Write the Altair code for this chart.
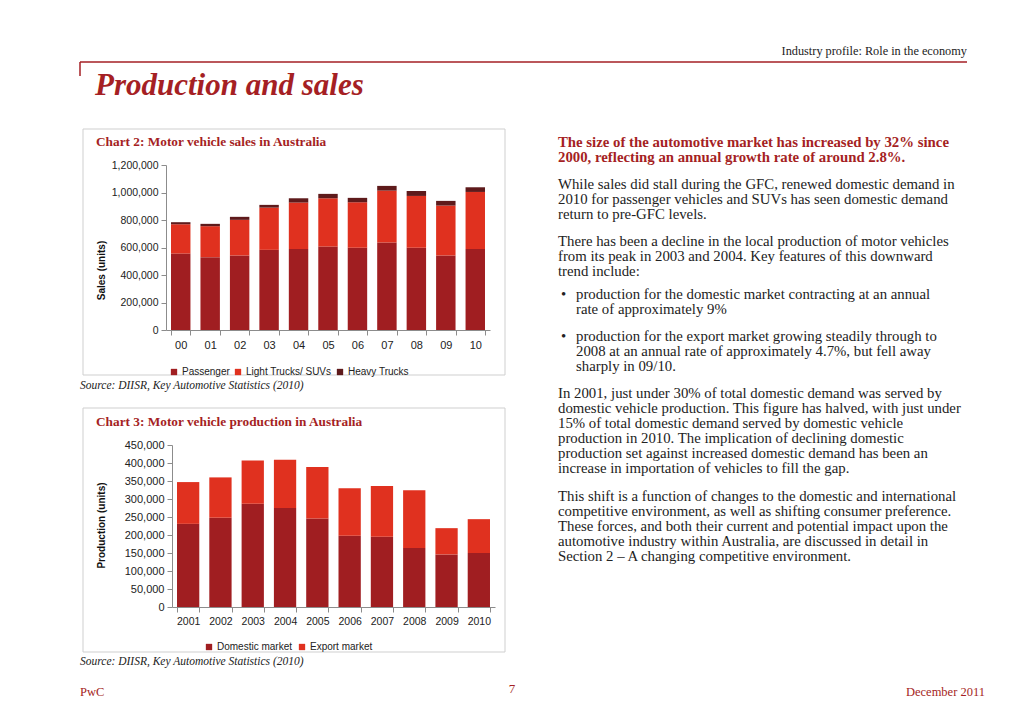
import altair as alt
import pandas as pd

# ---------------- data ----------------
sales_years = ["00", "01", "02", "03", "04", "05", "06", "07", "08", "09", "10"]
sales_series = ["Passenger", "Light Trucks/ SUVs", "Heavy Trucks"]
passenger = [556000, 530000, 542000, 583000, 590000, 607000, 598000, 636000, 598000, 542000, 590000]
light_trucks = [213000, 225000, 259000, 307000, 337000, 351000, 331000, 378000, 377000, 363000, 414000]
heavy_trucks = [15000, 17000, 22000, 20000, 31000, 32000, 32000, 34000, 36000, 34000, 34000]
sales_ticks = [0, 200000, 400000, 600000, 800000, 1000000, 1200000]

prod_years = ["2001", "2002", "2003", "2004", "2005", "2006", "2007", "2008", "2009", "2010"]
prod_series = ["Domestic market", "Export market"]
domestic = [231000, 248000, 287000, 275000, 246000, 198000, 195000, 164000, 146000, 150000]
export = [116000, 112000, 120000, 134000, 143000, 132000, 141000, 160000, 73000, 94000]
prod_ticks = [0, 50000, 100000, 150000, 200000, 250000, 300000, 350000, 400000, 450000]

sales_rows = []
for i, yr in enumerate(sales_years):
    for k, (name, vals) in enumerate(zip(sales_series, [passenger, light_trucks, heavy_trucks])):
        sales_rows.append({"year": yr, "series": name, "units": vals[i], "idx": k})
sales_df = pd.DataFrame(sales_rows)

prod_rows = []
for i, yr in enumerate(prod_years):
    for k, (name, vals) in enumerate(zip(prod_series, [domestic, export])):
        prod_rows.append({"year": yr, "series": name, "units": vals[i], "idx": k})
prod_df = pd.DataFrame(prod_rows)

# ---------------- page geometry ----------------
W, H = 1008, 698
def px(x):
    return x - 8
def py(y):
    return y - 8

SERIF = "Liberation Serif"
SANS = "Liberation Sans"
RED = "#A51F24"
DARK = "#A01E21"
BRIGHT = "#E0311F"
HEAVY = "#5E1A1B"
INK = "#222222"
AXC = "#8c8c8c"

one = pd.DataFrame({"k": [0]})


def txt(lines, x, y, size, color=INK, weight="normal", style="normal",
        align="left", font=SERIF, lh=15):
    return alt.Chart(one).mark_text(
        align=align, baseline="middle", font=font, fontSize=size,
        fontWeight=weight, fontStyle=style, color=color, lineHeight=lh
    ).encode(x=alt.value(px(x)), y=alt.value(py(y)), text=alt.value(lines))


def box(x0, x1, y0, y1):
    return alt.Chart(one).mark_rect(
        fill="white", fillOpacity=0, stroke="#cfcfcf", strokeWidth=1
    ).encode(x=alt.value(px(x0)), x2=alt.value(px(x1)),
             y=alt.value(py(y0)), y2=alt.value(py(y1)))


def bars(df, years, series, colors, x0, x1, y0, y1, ymax, ticks, pin,
         ytitle, title_dx, title_y, ylab_size, xlab_size, leg_x, leg_y, leg_pad):
    return alt.Chart(df).mark_bar().encode(
        x=alt.X("year:N", sort=years,
                scale=alt.Scale(domain=years, range=[px(x0), px(x1)],
                                paddingInner=pin, paddingOuter=pin / 2),
                axis=alt.Axis(orient="bottom", offset=py(y0) - H, title=None,
                              labelAngle=0, labelFontSize=xlab_size, labelFont=SANS,
                              labelColor=INK, tickBand="extent", tickSize=5,
                              labelPadding=4, domainColor=AXC, tickColor=AXC,
                              zindex=1)),
        y=alt.Y("units:Q", stack="zero",
                scale=alt.Scale(domain=[0, ymax], range=[py(y0), py(y1)], nice=False),
                axis=alt.Axis(orient="left", offset=-px(x0), values=ticks, format=",.0f",
                              grid=False, title=ytitle, titleX=title_dx,
                              titleY=py(title_y), titleAngle=270, titleBaseline="middle",
                              titleAlign="center", titleFontSize=10, titleFontWeight="bold",
                              titleFont=SANS, titleColor="#111111",
                              labelFontSize=ylab_size, labelFont=SANS, labelColor=INK,
                              tickSize=5, labelPadding=3, domainColor=AXC, tickColor=AXC,
                              zindex=1)),
        color=alt.Color("series:N",
                        scale=alt.Scale(domain=series, range=colors),
                        legend=alt.Legend(orient="none", legendX=px(leg_x), legendY=py(leg_y),
                                          direction="horizontal", title=None,
                                          symbolType="square", symbolSize=40,
                                          symbolStrokeWidth=0, labelFontSize=10,
                                          labelFont=SANS, labelColor=INK,
                                          columnPadding=leg_pad, padding=0,
                                          labelOffset=3)),
        order=alt.Order("idx:Q", sort="ascending"),
    )


sales_chart = bars(sales_df, sales_years, sales_series, [DARK, BRIGHT, HEAVY],
                   166, 490, 330, 165, 1200000, sales_ticks, 0.34,
                   "Sales (units)", -65, 270, 10.5, 11, 169, 367, 3)
prod_chart = bars(prod_df, prod_years, prod_series, [DARK, BRIGHT],
                  172, 495, 607, 445, 450000, prod_ticks, 0.31,
                  "Production (units)", -71, 525, 11, 10.5, 204, 642, 4)

# ---------------- page furniture ----------------
rule_h = alt.Chart(one).mark_rule(color=RED, strokeWidth=1.5).encode(
    x=alt.value(px(80)), x2=alt.value(px(967)), y=alt.value(py(62)))
rule_v = alt.Chart(one).mark_rule(color=RED, strokeWidth=1.5).encode(
    x=alt.value(px(80)), y=alt.value(py(62)), y2=alt.value(py(76)))

BODY = 14.8
texts = [
    txt("Industry profile: Role in the economy", 967, 51, 12.3, align="right"),
    txt("Production and sales", 95, 86, 31, color=RED, weight="bold", style="italic"),
    txt("Chart 2: Motor vehicle sales in Australia", 96, 142, 13.3, color=RED, weight="bold"),
    txt("Source: DIISR, Key Automotive Statistics (2010)", 80, 386, 11.5, style="italic"),
    txt("Chart 3: Motor vehicle production in Australia", 96, 422, 13.3, color=RED, weight="bold"),
    txt("Source: DIISR, Key Automotive Statistics (2010)", 80, 662, 11.5, style="italic"),
    txt("PwC", 80, 692, 12.5, color=RED),
    txt("7", 512, 689, 13, color=RED, align="center"),
    txt("December 2011", 985, 692, 12.5, color=RED, align="right"),
    txt(["The size of the automotive market has increased by 32% since",
         "2000, reflecting an annual growth rate of around 2.8%."],
        558, 143, BODY, color=RED, weight="bold"),
    txt(["While sales did stall during the GFC, renewed domestic demand in",
         "2010 for passenger vehicles and SUVs has seen domestic demand",
         "return to pre-GFC levels."], 558, 185, BODY),
    txt(["There has been a decline in the local production of motor vehicles",
         "from its peak in 2003 and 2004. Key features of this downward",
         "trend include:"], 558, 242, BODY),
    txt("\u2022", 561, 295, BODY),
    txt(["production for the domestic market contracting at an annual",
         "rate of approximately 9%"], 576, 295, BODY),
    txt("\u2022", 561, 337, BODY),
    txt(["production for the export market growing steadily through to",
         "2008 at an annual rate of approximately 4.7%, but fell away",
         "sharply in 09/10."], 576, 337, BODY),
    txt(["In 2001, just under 30% of total domestic demand was served by",
         "domestic vehicle production. This figure has halved, with just under",
         "15% of total domestic demand served by domestic vehicle",
         "production in 2010. The implication of declining domestic",
         "production set against increased domestic demand has been an",
         "increase in importation of vehicles to fill the gap."], 558, 394, BODY),
    txt(["This shift is a function of changes to the domestic and international",
         "competitive environment, as well as shifting consumer preference.",
         "These forces, and both their current and potential impact upon the",
         "automotive industry within Australia, are discussed in detail in",
         "Section 2 \u2013 A changing competitive environment."], 558, 497, BODY),
]

chart = alt.layer(
    box(83, 505, 129, 375),
    box(83, 505, 408, 652),
    rule_h, rule_v,
    sales_chart, prod_chart,
    *texts,
).resolve_scale(
    x="independent", y="independent", color="independent"
).properties(
    width=W, height=H, padding=0, background="white",
    autosize=alt.AutoSizeParams(type="none")
).configure_view(stroke=None)

chart.save("out.html", embed_options={"renderer": "svg", "actions": False})
